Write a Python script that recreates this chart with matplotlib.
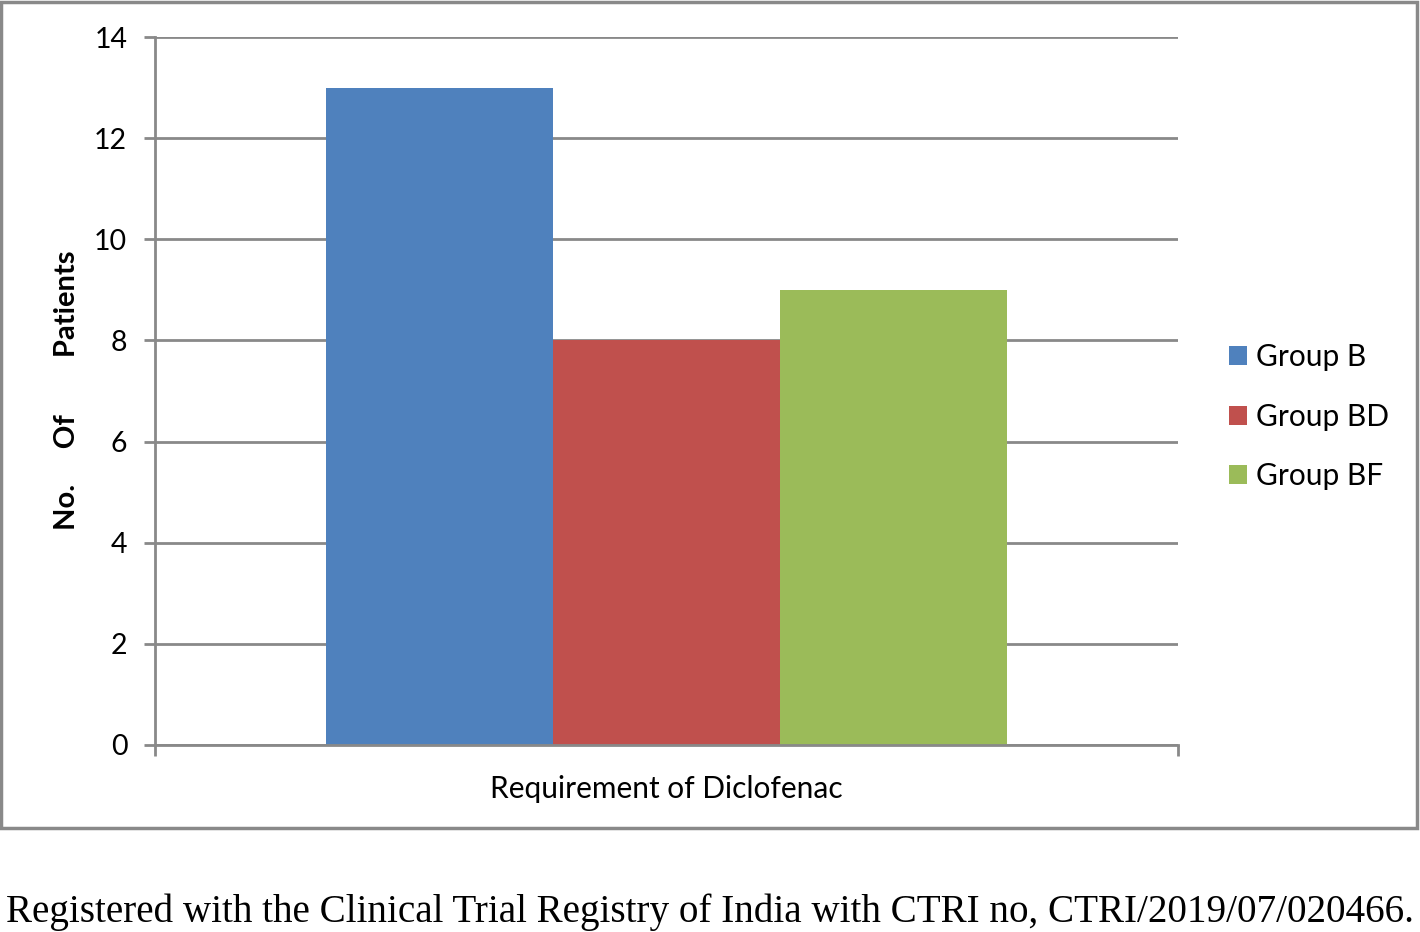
import matplotlib.pyplot as plt
import matplotlib.patches as patches

groups = ["Group B", "Group BD", "Group BF"]
values = [13, 8, 9]
colors = ["#4F81BD", "#C0504D", "#9BBB59"]
category = "Requirement of Diclofenac"
yticks = [0, 2, 4, 6, 8, 10, 12, 14]

plt.rcParams['font.family'] = ['Lato', 'DejaVu Sans']

fig = plt.figure(figsize=(14.2, 9.32), dpi=100)
ax = fig.add_axes([0.1092, 0.2007, 0.7204, 0.7596])

bw = 227 / 1023
for i, (g, v, c) in enumerate(zip(groups, values, colors)):
    ax.bar((i - 1) * bw, v, width=bw, color=c, label=g, zorder=3)

ax.set_xlim(-0.5, 0.5)
ax.set_ylim(0, 14)
ax.set_yticks(yticks)
ax.set_yticklabels([str(t) for t in yticks], fontsize=20.5)
ax.set_xticks([-0.5, 0.5])
ax.set_xticklabels(["", ""])
ax.tick_params(axis='y', length=8, width=2, color='#898989', pad=12)
ax.tick_params(axis='x', length=8, width=2, color='#898989')
ax.yaxis.grid(True, color='#898989', linewidth=2, zorder=0)
ax.set_axisbelow(True)
for s in ['top', 'right']:
    ax.spines[s].set_visible(False)
for s in ['left', 'bottom']:
    ax.spines[s].set_color('#898989')
    ax.spines[s].set_linewidth(2)
ax.spines['bottom'].set_zorder(4)

ax.set_xlabel(category, fontsize=21.5, labelpad=10)
fig.text(0.047, 0.581, "No.     Of        Patients", rotation=90, fontsize=21,
         fontweight='bold', ha='center', va='center')

fig.legend(loc='upper left', bbox_to_anchor=(0.857, 0.6445), frameon=False,
           fontsize=21.5, labelspacing=1.05, handlelength=0.6, handleheight=0.6,
           handletextpad=0.3, borderaxespad=0)

fig.patches.append(patches.Rectangle((0.001, 0.112), 0.997, 0.886,
                                     transform=fig.transFigure, fill=False,
                                     edgecolor='#898989', linewidth=2.5))

fig.text(0.5, 0.011, "Registered with the Clinical Trial Registry of India with CTRI no, CTRI/2019/07/020466.",
         family='Liberation Serif', fontsize=28.2, ha='center', va='baseline')

plt.savefig('out.png')
